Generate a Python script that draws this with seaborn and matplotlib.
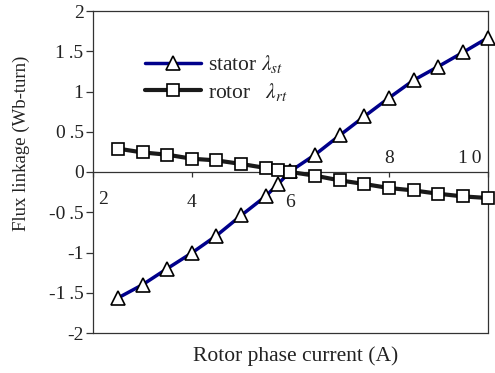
import numpy as np
import pandas as pd
import matplotlib
matplotlib.use("Agg")
import matplotlib.pyplot as plt
import seaborn as sns

# rotor phase current (A)
current = [2.5, 3.0, 3.5, 4.0, 4.5, 5.0, 5.5, 5.75, 6.0, 6.5, 7.0, 7.5, 8.0, 8.5, 9.0, 9.5, 10.0]
# flux linkage (Wb-turn)
stator = [-1.565, -1.40, -1.20, -1.005, -0.79, -0.54, -0.30, -0.15, 0.01, 0.215, 0.455, 0.69,
          0.92, 1.14, 1.31, 1.485, 1.665]
rotor = [0.29, 0.243, 0.215, 0.165, 0.144, 0.10, 0.05, 0.03, 0.0, -0.046, -0.104, -0.149,
         -0.199, -0.229, -0.27, -0.303, -0.323]
xticks = [2, 4, 6, 8, 10]
xtick_labels = ["2", "4", "6", "8", "1\u20090"]
yticks = [-2, -1.5, -1, -0.5, 0, 0.5, 1, 1.5, 2]
ytick_labels = ["-2", "-1\u2009.5", "-1", "-0\u2009.5", "0", "0\u2009.5", "1", "1\u2009.5", "2"]

df = pd.DataFrame({"current": current, "stator": stator, "rotor": rotor})

sns.set_style("ticks")
plt.rcParams["font.family"] = ["Liberation Serif", "DejaVu Serif"]
plt.rcParams["mathtext.fontset"] = "stix"

fig = plt.figure(figsize=(4.95, 3.73), dpi=100)
ax = fig.add_axes([93.3 / 495, 1 - 333 / 373, (487.5 - 93.3) / 495, (333 - 11) / 373])

sns.lineplot(data=df, x="current", y="stator", ax=ax, color="#00008b", lw=2.5,
             marker="^", markersize=9.5, markerfacecolor="white", markeredgecolor="black",
             markeredgewidth=1.2, label="stator $\\lambda_{st}$", clip_on=False, zorder=3)
sns.lineplot(data=df, x="current", y="rotor", ax=ax, color="#1a1a1a", lw=3,
             marker="s", markersize=9, markerfacecolor="white", markeredgecolor="black",
             markeredgewidth=1.2, label="rotor   $\\lambda_{rt}$", clip_on=False, zorder=4)

ax.set_xlim(2, 10)
ax.set_ylim(-2, 2)

# x axis drawn through zero, frame closed at the bottom
ax.spines["bottom"].set_position(("data", 0))
for s in ["top", "right", "left", "bottom"]:
    ax.spines[s].set_visible(True)
    ax.spines[s].set_linewidth(0.9)
    ax.spines[s].set_color("#333333")
ax.axhline(-2, color="#333333", lw=0.9, clip_on=False)

ax.set_yticks(yticks)
ax.set_yticklabels(ytick_labels, fontsize=14)
ax.tick_params(axis="y", direction="out", length=5, width=0.9, pad=2, colors="#333333",
               labelcolor="#222222")

ax.set_xticks(xticks)
ax.set_xticklabels([])
ax.tick_params(axis="x", direction="out", length=3.5, width=0.9, colors="#333333")
for xv, lab in zip(xticks, xtick_labels):
    if xv == 2:
        ax.annotate(lab, (xv, 0), xytext=(3.5, -20), textcoords="offset points",
                    ha="left", va="center", fontsize=14, color="#222222")
    elif xv == 10:
        ax.annotate(lab, (xv, 0), xytext=(-4, 10), textcoords="offset points",
                    ha="right", va="center", fontsize=14, color="#222222")
    elif xv == 8:
        ax.annotate(lab, (xv, 0), xytext=(0, 10), textcoords="offset points",
                    ha="center", va="center", fontsize=14, color="#222222")
    else:
        ax.annotate(lab, (xv, 0), xytext=(0, -22), textcoords="offset points",
                    ha="center", va="center", fontsize=14, color="#222222")

ax.set_xlabel("Rotor phase current (A)", fontsize=15.5, color="#222222")
ax.xaxis.set_label_coords(0.512, -0.04)
ax.set_ylabel("Flux linkage (Wb-turn)", fontsize=13.5, color="#222222")
ax.yaxis.set_label_coords(-0.16, 0.59)

ax.legend(loc="upper left", bbox_to_anchor=(0.11, 0.895), frameon=False, fontsize=15.5,
          handlelength=2.6, handletextpad=0.3, labelspacing=0.25, borderaxespad=0)

fig.savefig("out.png", dpi=100)
